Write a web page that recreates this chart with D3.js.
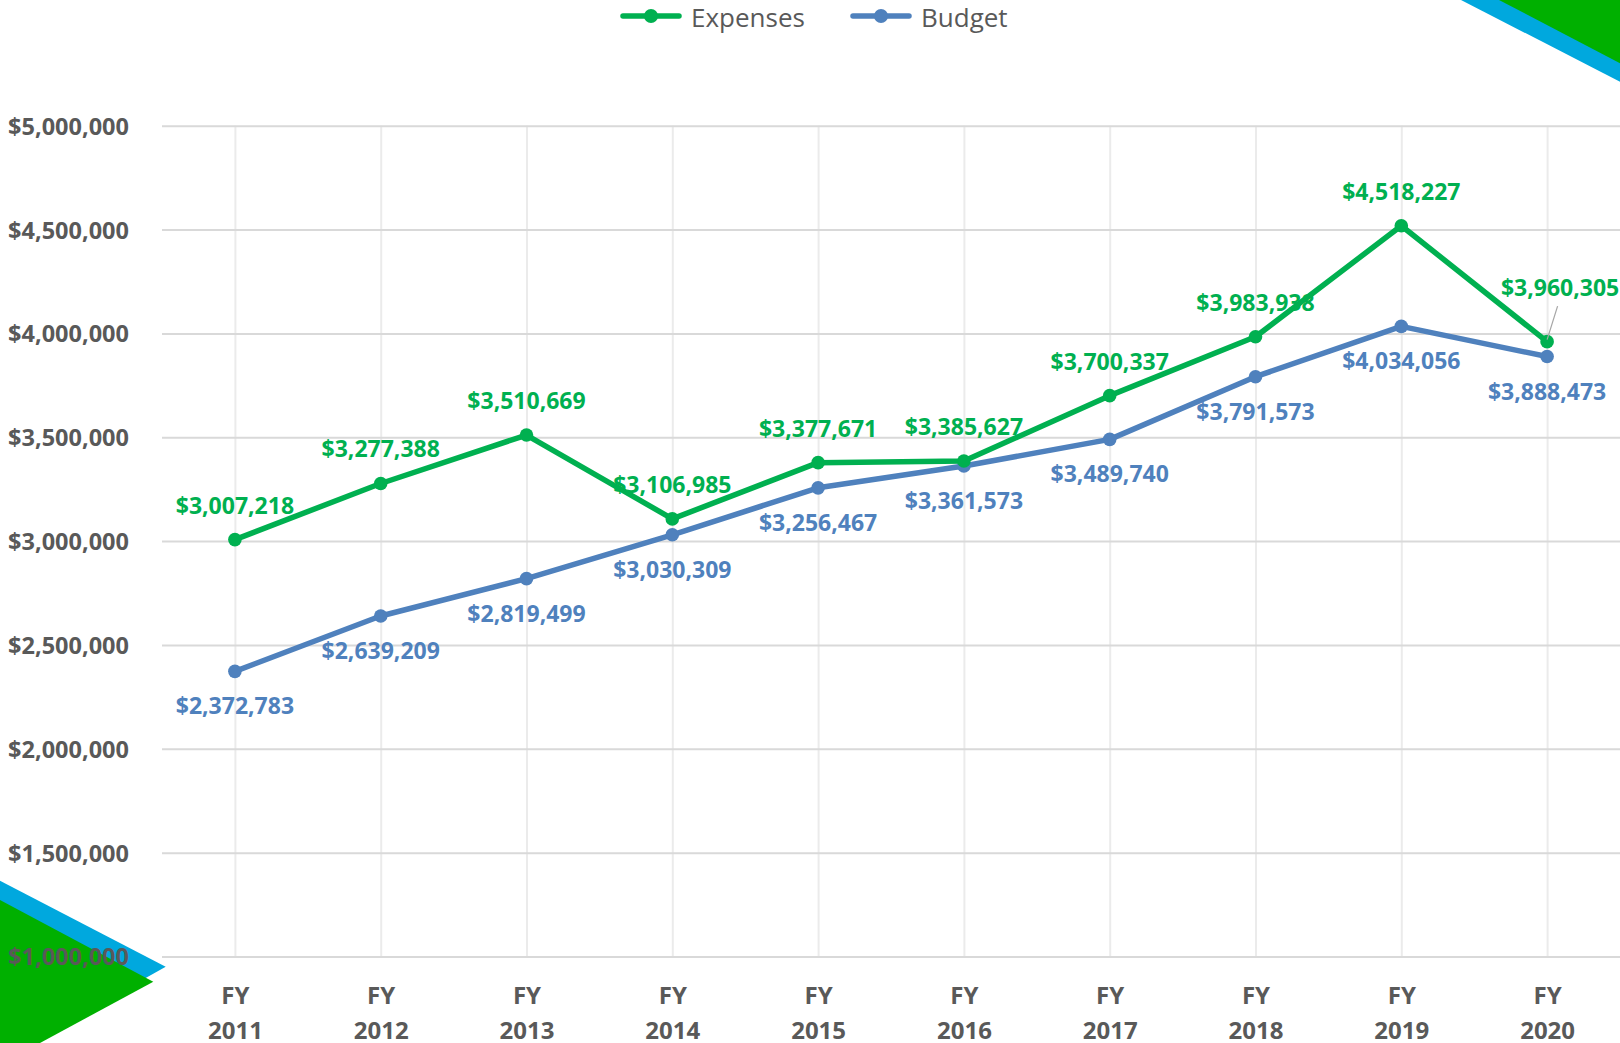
<!DOCTYPE html>
<html>
<head>
<meta charset="utf-8">
<script src="https://cdn.jsdelivr.net/npm/d3@7"></script>
<style>
  body { margin: 0; background: #fff; overflow: hidden; }
  svg { display: block; font-family: 'Open Sans', sans-serif; }
</style>
</head>
<body>
<svg id="chart"></svg>
<script>
const years = ['2011', '2012', '2013', '2014', '2015', '2016', '2017', '2018', '2019', '2020'];
const expenses = [3007218, 3277388, 3510669, 3106985, 3377671, 3385627, 3700337, 3983938, 4518227, 3960305];
const budget = [2372783, 2639209, 2819499, 3030309, 3256467, 3361573, 3489740, 3791573, 4034056, 3888473];
const yTickValues = [1000000, 1500000, 2000000, 2500000, 3000000, 3500000, 4000000, 4500000, 5000000];
const seriesNames = ['Expenses', 'Budget'];

const width = 1620;
const height = 1043;
const plotLeft = 162;
const plotTop = 125.7;
const plotBottom = 956.5;
const green = '#00b050';
const blue = '#4f81bd';
const grey = '#595959';
const font = "'Open Sans', sans-serif";

const svg = d3.select('#chart')
  .attr('width', width)
  .attr('height', height);

// corner decorations (slide background)
svg.append('polygon')
  .attr('points', '1461,0 1620,0 1620,81.7')
  .attr('fill', '#00a8de');
svg.append('polygon')
  .attr('points', '1499,0 1620,0 1620,63.3')
  .attr('fill', '#00b000');
svg.append('polygon')
  .attr('points', '0,880.7 165.7,966.7 30,1043 0,1043')
  .attr('fill', '#00a8de');
svg.append('polygon')
  .attr('points', '0,900 153.3,981.7 40,1043 0,1043')
  .attr('fill', '#00b000');

const x = d3.scalePoint()
  .domain(years)
  .range([plotLeft, width])
  .padding(0.5);

const y = d3.scaleLinear()
  .domain([1000000, 5000000])
  .range([plotBottom, plotTop]);

// vertical gridlines + category labels
const xAxis = svg.append('g')
  .attr('class', 'x-axis')
  .attr('transform', `translate(0, ${plotBottom})`)
  .call(d3.axisBottom(x).tickSize(-(plotBottom - plotTop)).tickFormat(''));
xAxis.select('.domain').remove();
xAxis.selectAll('.tick line')
  .attr('stroke', '#ebebeb')
  .attr('stroke-width', 2);
const xLabel = xAxis.selectAll('.tick').append('text')
  .attr('text-anchor', 'middle')
  .attr('fill', grey)
  .attr('font-family', font)
  .attr('font-size', 24)
  .attr('font-weight', 'bold');
xLabel.append('tspan').attr('x', 0).attr('y', 47.5).text('FY');
xLabel.append('tspan').attr('x', 0).attr('y', 82).text(d => d);

// horizontal gridlines + value labels
const yAxis = svg.append('g')
  .attr('class', 'y-axis')
  .attr('transform', `translate(${plotLeft}, 0)`)
  .call(d3.axisLeft(y)
    .tickValues(yTickValues)
    .tickSize(-(width - plotLeft))
    .tickPadding(33)
    .tickFormat(d3.format('$,')));
yAxis.select('.domain').remove();
yAxis.selectAll('.tick line')
  .attr('stroke', '#d9d9d9')
  .attr('stroke-width', 2);
yAxis.selectAll('.tick text')
  .attr('fill', grey)
  .attr('font-family', font)
  .attr('font-size', 23.5)
  .attr('font-weight', 'bold')
  .attr('dy', '0.36em');

const line = d3.line()
  .x((d, i) => x(years[i]))
  .y(d => y(d));

function drawSeries(values, color, cls) {
  const g = svg.append('g').attr('class', cls);
  g.append('path')
    .datum(values)
    .attr('d', line)
    .attr('fill', 'none')
    .attr('stroke', color)
    .attr('stroke-width', 5.5)
    .attr('stroke-linejoin', 'round');
  g.selectAll('circle')
    .data(values)
    .enter().append('circle')
    .attr('cx', (d, i) => x(years[i]))
    .attr('cy', d => y(d))
    .attr('r', 6.8)
    .attr('fill', color);
}

drawSeries(budget, blue, 'budget');
drawSeries(expenses, green, 'expenses');

const fmt = d3.format('$,');

function drawLabels(values, color, above) {
  svg.append('g')
    .selectAll('g')
    .data(values)
    .enter().append('g')
    .each(function (d, i) {
      const g = d3.select(this);
      const px = x(years[i]);
      const py = y(d);
      let lx = px;
      let ly = above ? py - 26 : py + 43;
      // last label above the line is pulled out to the right and up, with a leader
      if (above && i === values.length - 1) {
        lx = px + 13;
        ly = py - 46;
        g.append('line')
          .attr('x1', px + 10.5)
          .attr('y1', ly + 10.5)
          .attr('x2', px)
          .attr('y2', py - 2)
          .attr('stroke', '#a6a6a6')
          .attr('stroke-width', 1.2);
      }
      g.append('text')
        .attr('x', lx)
        .attr('y', ly)
        .attr('text-anchor', 'middle')
        .attr('fill', color)
        .attr('font-size', 23)
        .attr('font-weight', 'bold')
        .text(fmt(d));
    });
}

drawLabels(expenses, green, true);
drawLabels(budget, blue, false);

// legend
const legend = svg.append('g').attr('class', 'legend');
const legendColors = [green, blue];
const legendX = [623, 853];
seriesNames.forEach((name, i) => {
  const item = legend.append('g')
    .attr('transform', `translate(${legendX[i]}, 16)`);
  item.append('line')
    .attr('x1', 0)
    .attr('x2', 56)
    .attr('stroke', legendColors[i])
    .attr('stroke-width', 5.5)
    .attr('stroke-linecap', 'round');
  item.append('circle')
    .attr('cx', 28)
    .attr('r', 7)
    .attr('fill', legendColors[i]);
  item.append('text')
    .attr('x', 68)
    .attr('y', 10.5)
    .attr('fill', grey)
    .attr('font-size', 26)
    .text(name);
});
</script>
</body>
</html>
